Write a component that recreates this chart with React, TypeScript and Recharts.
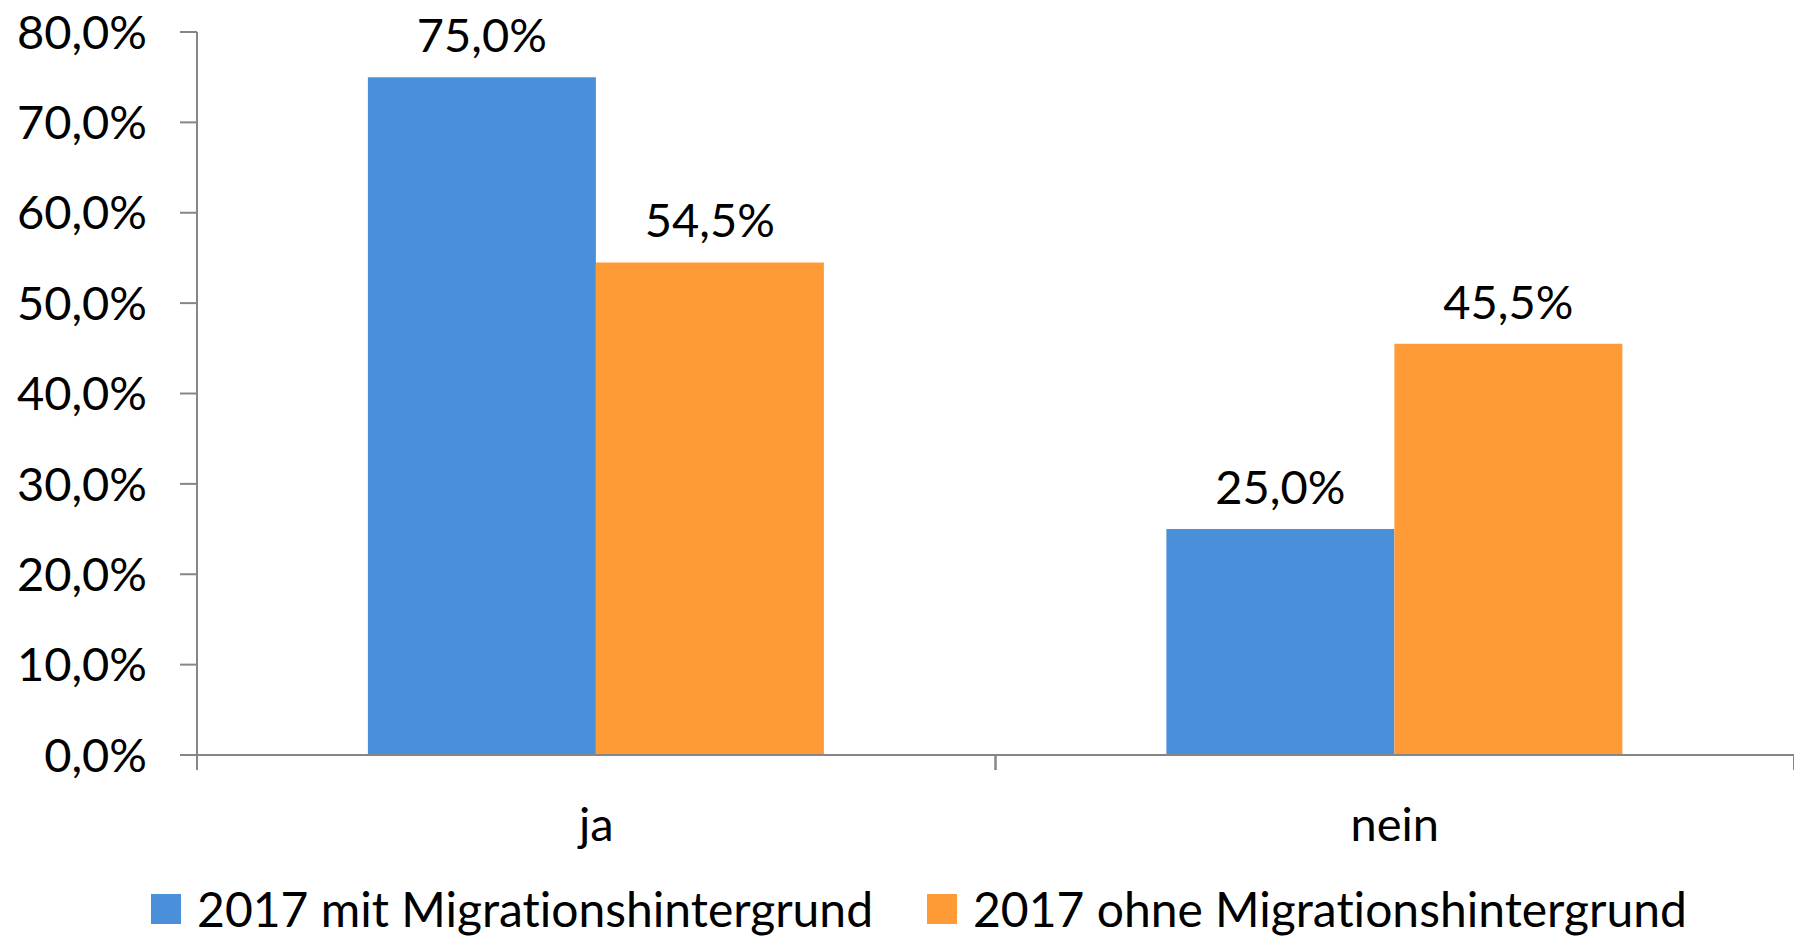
import React from 'react';
import { BarChart, Bar, XAxis, YAxis, Legend, LabelList } from 'recharts';

const categories = ['ja', 'nein'];
const mitMigration = [75.0, 25.0];
const ohneMigration = [54.5, 45.5];
const seriesNames = ['2017 mit Migrationshintergrund', '2017 ohne Migrationshintergrund'];
const yTicks = [0, 10, 20, 30, 40, 50, 60, 70, 80];

const BLUE = '#4A8FDA';
const ORANGE = '#FF9B37';
const AXIS = '#868686';
const FONT = 'Lato, "Open Sans", sans-serif';
const FS = 47;
const X_TICK = 15;
const X_MARGIN = 38;

const data = categories.map((name, i) => ({
  name,
  mit: mitMigration[i],
  ohne: ohneMigration[i],
}));

const pct = (v: number) => `${v.toFixed(1).replace('.', ',')}%`;

// category label plus the tick marks at the band edges (Excel style)
const CategoryTick = (props: any) => {
  const { x, y, payload } = props;
  const half = payload.offset ?? 0;
  const top = y - X_TICK - X_MARGIN;
  return (
    <g>
      <line x1={x - half} x2={x - half} y1={top} y2={top + X_TICK} stroke={AXIS} strokeWidth={2} />
      <line x1={x + half} x2={x + half} y1={top} y2={top + X_TICK} stroke={AXIS} strokeWidth={2} />
      <text x={x} y={y} dy="0.71em" textAnchor="middle" fill="#000" fontSize={FS} fontFamily={FONT}>
        {payload.value}
      </text>
    </g>
  );
};

const LegendContent = () => (
  <div
    style={{
      display: 'flex',
      justifyContent: 'center',
      alignItems: 'center',
      height: 57,
      fontFamily: FONT,
      fontSize: 48,
      fontVariantLigatures: 'none',
      color: '#000',
      paddingLeft: 44,
    }}
  >
    {seriesNames.map((n, i) => (
      <div key={n} style={{ display: 'flex', alignItems: 'center', marginRight: i === 0 ? 54 : 0 }}>
        <span style={{ width: 30, height: 30, background: i === 0 ? BLUE : ORANGE, marginRight: 16, display: 'inline-block' }} />
        <span>{n}</span>
      </div>
    ))}
  </div>
);

export default function App() {
  return (
    <div>
      <style>{'body{margin:0}'}</style>
      <BarChart
        width={1794}
        height={937}
        data={data}
        margin={{ top: 32, right: 0, left: 0, bottom: 0 }}
        barCategoryGap="21.4%"
        barGap={0}
      >
        <XAxis
          dataKey="name"
          height={125}
          axisLine={{ stroke: AXIS, strokeWidth: 2 }}
          tickLine={false}
          tickSize={X_TICK}
          tickMargin={X_MARGIN}
          tick={<CategoryTick />}
        />
        <YAxis
          width={197}
          domain={[0, 80]}
          ticks={yTicks}
          tickFormatter={pct}
          axisLine={{ stroke: AXIS, strokeWidth: 2 }}
          tickLine={{ stroke: AXIS, strokeWidth: 2 }}
          tickSize={17}
          tickMargin={33}
          tick={{ fill: '#000', fontSize: FS, fontFamily: FONT }}
        />
        <Legend verticalAlign="bottom" content={<LegendContent />} />
        <Bar dataKey="mit" name={seriesNames[0]} fill={BLUE} isAnimationActive={false}>
          <LabelList dataKey="mit" position="top" offset={25} formatter={pct} fill="#000" fontSize={FS} fontFamily={FONT} />
        </Bar>
        <Bar dataKey="ohne" name={seriesNames[1]} fill={ORANGE} isAnimationActive={false}>
          <LabelList dataKey="ohne" position="top" offset={25} formatter={pct} fill="#000" fontSize={FS} fontFamily={FONT} />
        </Bar>
      </BarChart>
    </div>
  );
}
